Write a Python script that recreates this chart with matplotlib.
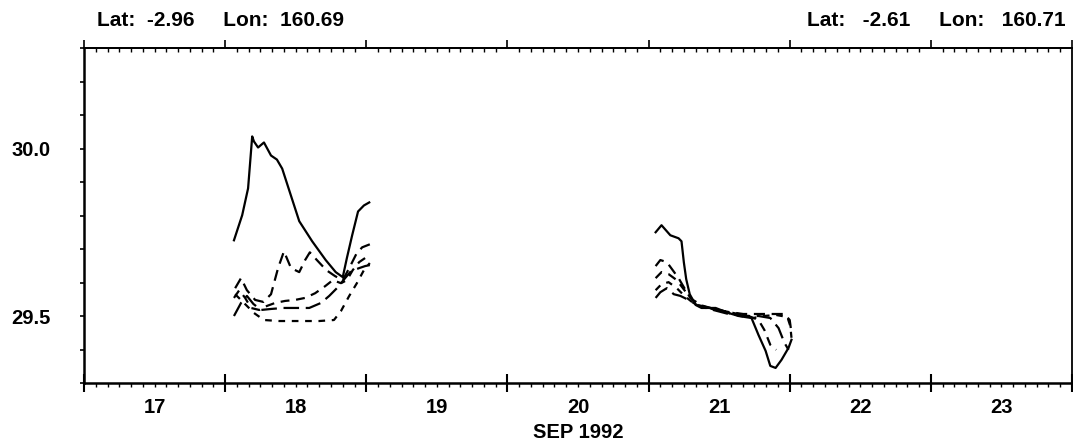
import matplotlib
matplotlib.use('Agg')
import matplotlib.pyplot as plt
from matplotlib.ticker import MultipleLocator, FixedLocator, NullFormatter, FormatStrFormatter

plt.rcParams['font.family'] = ['Liberation Sans', 'DejaVu Sans']
plt.rcParams['font.weight'] = 'bold'

# ---- data: hours within the day, values (deg C) ----
day1 = 18  # Sep 18 1992
day2 = 21  # Sep 21 1992

solid1_h = [1.5, 2.9, 3.9, 4.6, 4.9, 5.6, 6.6, 7.8, 8.8, 9.7, 10.9, 12.6, 14.8, 17.1, 18.8, 20.0, 20.7, 21.6, 22.6, 23.6, 24.5]
solid1_v = [29.726, 29.801, 29.881, 30.036, 30.021, 30.003, 30.018, 29.979, 29.967, 29.940, 29.875, 29.783,
            29.723, 29.667, 29.631, 29.616, 29.673, 29.741, 29.812, 29.830, 29.839]

dashA1_h = [1.7, 2.7, 3.7, 5.1, 6.5, 7.8, 9.0, 10.0, 11.2, 12.6, 13.6, 14.4, 15.6, 17.2, 18.7, 20.0, 21.1, 22.3, 23.3, 24.6]
dashA1_v = [29.583, 29.613, 29.577, 29.548, 29.542, 29.565, 29.643, 29.693, 29.643, 29.631, 29.667, 29.690,
            29.667, 29.637, 29.619, 29.607, 29.643, 29.685, 29.705, 29.714]

dashB1_h = [1.5, 2.4, 3.4, 4.4, 5.8, 7.1, 8.5, 10.2, 11.9, 13.6, 15.3, 17.0, 18.3, 19.7, 20.7, 21.7, 22.8, 23.8, 24.6]
dashB1_v = [29.554, 29.577, 29.554, 29.524, 29.518, 29.530, 29.539, 29.545, 29.548, 29.554, 29.568, 29.589,
            29.607, 29.598, 29.607, 29.637, 29.661, 29.673, 29.679]

dashC1_h = [1.5, 2.7, 3.7, 4.8, 6.1, 7.8, 9.9, 11.9, 14.3, 16.3, 17.7, 19.0, 20.4, 21.4, 22.8, 23.8, 24.6]
dashC1_v = [29.500, 29.539, 29.560, 29.536, 29.518, 29.521, 29.524, 29.524, 29.524, 29.539, 29.560, 29.583,
            29.613, 29.634, 29.643, 29.649, 29.652]

dashD1_h = [1.7, 3.2, 4.9, 6.6, 9.2, 12.6, 16.0, 18.5, 19.7, 21.1, 22.4, 23.6, 24.6]
dashD1_v = [29.565, 29.539, 29.509, 29.488, 29.485, 29.485, 29.485, 29.488, 29.515, 29.560, 29.598, 29.637, 29.658]

solid2_h = [1.2, 2.2, 3.7, 5.1, 5.6, 6.0, 6.4, 7.0, 8.0, 9.0, 11.4, 13.6, 15.3, 17.5, 18.7, 19.9, 20.7, 21.6, 22.6, 23.8, 24.3]
solid2_v = [29.750, 29.771, 29.741, 29.732, 29.723, 29.660, 29.610, 29.565, 29.533, 29.524, 29.524, 29.509,
            29.500, 29.494, 29.443, 29.396, 29.351, 29.345, 29.369, 29.405, 29.429]

dashA2_h = [1.2, 2.0, 3.1, 4.1, 5.1, 6.1, 7.1, 8.5, 11.0, 13.6, 16.1, 18.2, 20.7, 23.1, 24.0, 24.3]
dashA2_v = [29.649, 29.667, 29.661, 29.637, 29.613, 29.583, 29.554, 29.533, 29.521, 29.512, 29.506, 29.506,
            29.506, 29.506, 29.488, 29.449]

dashB2_h = [1.2, 2.2, 3.4, 4.8, 6.1, 7.5, 9.3, 11.9, 14.4, 17.0, 18.7, 19.7, 20.7, 21.7]
dashB2_v = [29.613, 29.631, 29.625, 29.607, 29.577, 29.548, 29.530, 29.518, 29.509, 29.500, 29.488, 29.458,
            29.414, 29.399]

dashC2_h = [1.2, 2.0, 3.1, 4.3, 5.4, 6.8, 8.5, 11.0, 13.6, 16.7, 18.7, 20.7, 22.1, 23.1, 23.8]
dashC2_v = [29.554, 29.571, 29.583, 29.565, 29.560, 29.548, 29.530, 29.518, 29.506, 29.500, 29.500, 29.494,
            29.464, 29.420, 29.399]

dashD2_h = [1.2, 2.2, 3.4, 4.8, 6.1, 7.8, 10.2, 12.9, 15.6, 17.8, 19.5, 21.7, 23.6, 24.1, 24.3]
dashD2_v = [29.577, 29.595, 29.601, 29.583, 29.560, 29.536, 29.524, 29.512, 29.500, 29.494, 29.500, 29.503,
            29.497, 29.470, 29.435]

day_ticks = [17, 18, 19, 20, 21, 22, 23, 24]
day_labels = ['17', '18', '19', '20', '21', '22', '23']
y_ticks = [29.5, 30.0]
xlabel = 'SEP 1992'
left_info = 'Lat:  -2.96     Lon:  160.69'
right_info = 'Lat:   -2.61     Lon:   160.71'


def to_x(day, hours):
    return [day + h / 24.0 for h in hours]


W, H = 1073, 444
fig = plt.figure(figsize=(W / 100, H / 100), dpi=100)
ax = fig.add_axes([84 / W, 1 - 383 / H, (1072 - 84) / W, (383 - 48) / H])

lw = 1.6
ax.plot(to_x(day1, solid1_h), solid1_v, color='black', lw=lw)
ax.plot(to_x(day1, dashA1_h), dashA1_v, color='black', lw=lw, dashes=(5, 3))
ax.plot(to_x(day1, dashB1_h), dashB1_v, color='black', lw=lw, dashes=(4, 3))
ax.plot(to_x(day1, dashC1_h), dashC1_v, color='black', lw=lw, dashes=(7, 3))
ax.plot(to_x(day1, dashD1_h), dashD1_v, color='black', lw=lw, dashes=(3, 3))

ax.plot(to_x(day2, solid2_h), solid2_v, color='black', lw=lw)
ax.plot(to_x(day2, dashA2_h), dashA2_v, color='black', lw=lw, dashes=(5, 3))
ax.plot(to_x(day2, dashB2_h), dashB2_v, color='black', lw=lw, dashes=(4, 3))
ax.plot(to_x(day2, dashC2_h), dashC2_v, color='black', lw=lw, dashes=(7, 3))
ax.plot(to_x(day2, dashD2_h), dashD2_v, color='black', lw=lw, dashes=(3, 3))

ax.set_xlim(day_ticks[0], day_ticks[-1])
ax.set_ylim(29.3, 30.3)

for s in ax.spines.values():
    s.set_linewidth(1.3)
ax.spines['left'].set_linewidth(1.8)
ax.spines['bottom'].set_linewidth(1.8)

ax.xaxis.set_major_locator(FixedLocator(day_ticks))
ax.xaxis.set_minor_locator(MultipleLocator(1 / 12))
ax.xaxis.set_major_formatter(NullFormatter())
ax.tick_params(axis='x', which='major', direction='inout', length=13, width=1.5, top=False)
ax.tick_params(axis='x', which='minor', direction='out', length=3, width=1.0, top=False)

ax.yaxis.set_major_locator(FixedLocator(y_ticks))
ax.yaxis.set_major_formatter(FormatStrFormatter('%.1f'))
ax.yaxis.set_minor_locator(MultipleLocator(0.1))
ax.tick_params(axis='y', which='both', direction='out', length=3, width=1.2, right=False)
ax.tick_params(axis='y', which='major', labelsize=14.5, pad=21)

# day labels centred at noon
sec = ax.secondary_xaxis('bottom')
sec.set_xticks([d + 0.5 for d in day_ticks[:-1]], labels=day_labels)
sec.tick_params(length=0, pad=11, labelsize=14.5)
sec.spines['bottom'].set_visible(False)
sec.set_xlabel(xlabel, fontsize=14.5, labelpad=4, fontweight='bold')

# top axis ticks
top = ax.secondary_xaxis('top')
top.xaxis.set_major_locator(FixedLocator(day_ticks))
top.xaxis.set_minor_locator(MultipleLocator(1 / 12))
top.xaxis.set_major_formatter(NullFormatter())
top.tick_params(which='major', direction='out', length=6, width=1.2)
top.tick_params(which='minor', direction='in', length=3, width=1.0)
top.spines['top'].set_linewidth(1.3)

fig.text(97 / W, 1 - 21 / H, left_info, ha='left', va='center', fontsize=15)
fig.text(1066 / W, 1 - 21 / H, right_info, ha='right', va='center', fontsize=15)

fig.savefig('out.png', dpi=100)
